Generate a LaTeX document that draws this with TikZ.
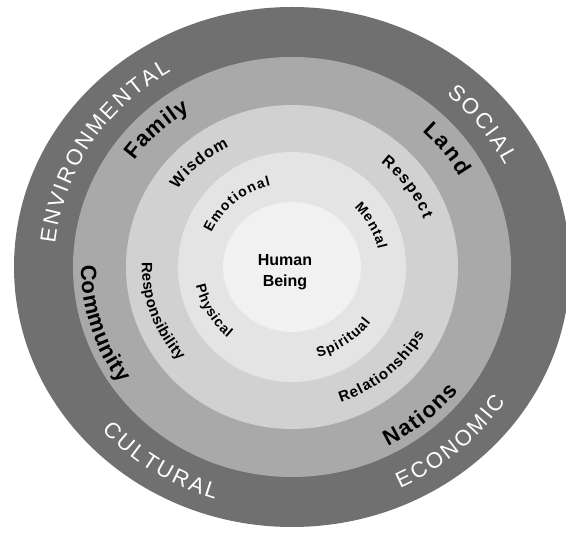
\documentclass[tikz,border=0pt]{standalone}
\usepackage{fontspec}
\setmainfont{Liberation Sans}
\usetikzlibrary{decorations.text}

\definecolor{ringfive}{HTML}{707070}
\definecolor{ringfour}{HTML}{A9A9A9}
\definecolor{ringthree}{HTML}{D1D1D1}
\definecolor{ringtwo}{HTML}{E4E4E4}
\definecolor{ringone}{HTML}{F1F1F1}

\newcommand{\outerfont}{\fontsize{22}{22}\selectfont\color{white}}
\newcommand{\fourfont}{\fontsize{22}{22}\selectfont\bfseries}
\newcommand{\threefont}{\fontsize{16}{16}\selectfont\bfseries}
\newcommand{\threesmallfont}{\fontsize{15}{15}\selectfont\bfseries}
\newcommand{\twofont}{\fontsize{14}{14}\selectfont\bfseries}

% label along an arc round the hub: x radius, y radius, start, end, font, text
\newcommand{\arclabel}[6]{%
  \path[decorate, decoration={text along path, text align=fit to path, text={|#5|#6}}]
    (hub) ++(#3:#1 and #2) arc[start angle=#3, end angle=#4, x radius=#1, y radius=#2];%
}

\begin{document}
\begin{tikzpicture}[x=1pt, y=1pt,
      ring/.style={fill=#1, draw=none},  % one grey disc
      being/.style={font=\fontsize{16}{21}\selectfont\bfseries, align=center}
    ]
    \useasboundingbox (0,0) rectangle (566,533);
    \coordinate (hub) at (292,266);
    \begin{scope}
        \clip (0,0) rectangle (566,533);
        \fill[ring=ringfive] (hub) ellipse [x radius=278, y radius=260];
        \fill[ring=ringfour] (hub) ellipse [x radius=219, y radius=210];
        \fill[ring=ringthree] (hub) ellipse [x radius=166, y radius=162];
        \fill[ring=ringtwo] (hub) ellipse [x radius=114, y radius=115];
        \fill[ring=ringone] (hub) ellipse [x radius=69, y radius=65];
    \end{scope}
    \node[being] (human) at (285,261) {Human\\Being};
    % outer ring
    \arclabel{238}{227}{174}{120.5}{\outerfont}{ENVIRONMENTAL}
    \arclabel{238}{227}{49.5}{26.5}{\outerfont}{SOCIAL}
    \arclabel{256}{244}{222}{252.5}{\outerfont}{CULTURAL}
    \arclabel{256}{244}{295}{326.5}{\outerfont}{ECONOMIC}
    % fourth ring
    \arclabel{193}{184}{144.5}{122}{\fourfont}{Family}
    \arclabel{193}{184}{47.5}{29.5}{\fourfont}{Land}
    \arclabel{211}{201}{179.5}{215.5}{\fourfont}{Community}
    \arclabel{211}{201}{297}{322}{\fourfont}{Nations}
    % third ring
    \arclabel{141}{134}{144.5}{116.5}{\threefont}{Wisdom}
    \arclabel{141}{134}{51}{21}{\threefont}{Respect}
    \arclabel{150}{143}{178}{221}{\threesmallfont}{Responsibility}
    \arclabel{150}{143}{289}{332}{\threesmallfont}{Relationships}
    % second ring
    \arclabel{88}{84}{156}{104}{\twofont}{Emotional}
    \arclabel{88}{84}{45}{12}{\twofont}{Mental}
    \arclabel{98}{93.5}{191.5}{229}{\twofont}{Physical}
    \arclabel{98}{93.5}{285.5}{323.5}{\twofont}{Spiritual}
\end{tikzpicture}
\end{document}
